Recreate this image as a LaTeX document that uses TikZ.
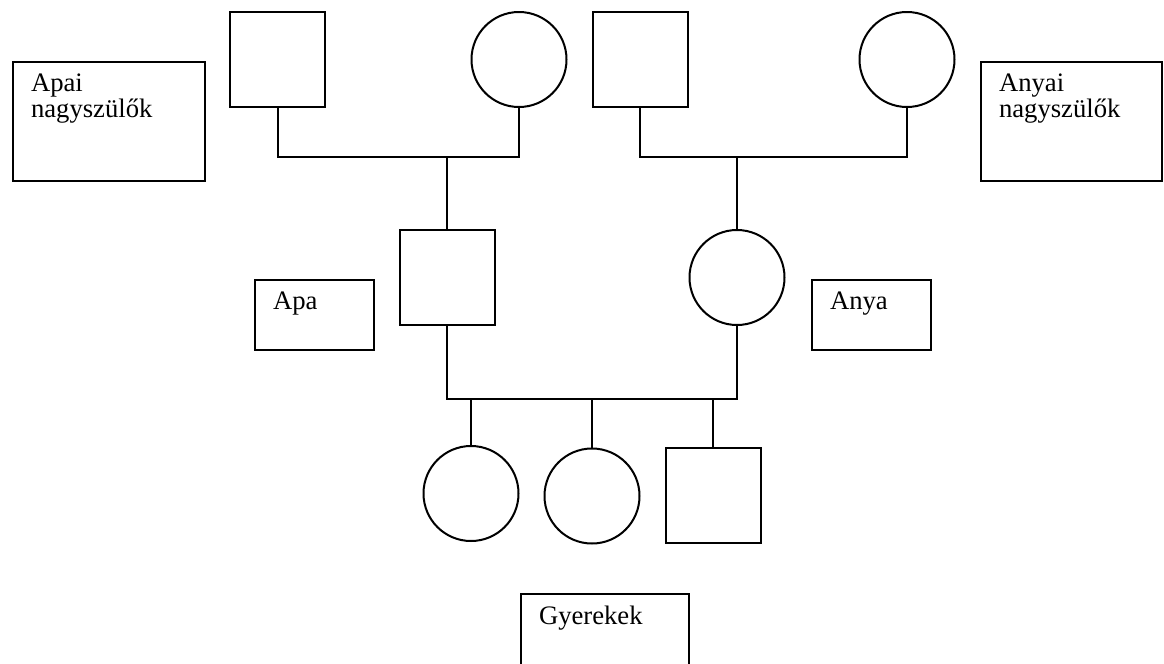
\documentclass[tikz,border=0pt]{standalone}
\usepackage{fontspec}
\setmainfont{Liberation Serif}

\newcommand{\tagtext}[3]{\parbox[t][#2][t]{#1}{\vspace*{9pt}\leftskip=13.5pt\relax #3}}

\begin{document}
\begin{tikzpicture}[x=0.75pt,y=-0.75pt,line width=1.5pt,
	male/.style={rectangle,draw,minimum size=71.25pt,inner sep=0pt},
	female/.style={circle,draw,minimum size=71.25pt,inner sep=0pt},
	tag/.style={rectangle,draw,inner sep=0pt,anchor=north west,font=\fontsize{20}{18}\selectfont}]
		\useasboundingbox (0,0) rectangle (1164,664);
		% grandparents
		\path (277.5,59.5) node(gpa1)[male]{}
		(519,59.5) node(gma1)[female]{}
		(640,59.5) node(gpa2)[male]{}
		(907,59.5) node(gma2)[female]{};
		% parents and children
		\path (447,277.5) node(apa)[male]{}
		(737,277.5) node(anya)[female]{}
		(471,493.5) node(kid1)[female]{}
		(592,496) node(kid2)[female]{}
		(713,495.5) node(kid3)[male]{};
		% labels
		\path (12,61) node(apaiL)[tag]{\tagtext{144pt}{89.25pt}{Apai\\nagyszülők}}
		(980,61) node(anyaiL)[tag]{\tagtext{135.75pt}{89.25pt}{Anyai\\nagyszülők}}
		(254,279) node(apaL)[tag]{\tagtext{89.25pt}{52.5pt}{Apa}}
		(811,279) node(anyaL)[tag]{\tagtext{89.25pt}{52.5pt}{Anya}}
		(520,593) node(kidsL)[tag]{\tagtext{126pt}{70pt}{Gyerekek}};
		\coordinate (pat) at (apa.north |- 0,157);
		\coordinate (mat) at (anya.north |- 0,157);
		\coordinate (sib) at (592,399);
		\draw (gpa1.south) |- (pat) -| (gma1.south);
		\draw (pat) -- (apa.north);
		\draw (gpa2.south) |- (mat) -| (gma2.south);
		\draw (mat) -- (anya.north);
		\draw (apa.south) |- (sib) -| (anya.south);
		\foreach \k in {kid1,kid2,kid3}
			\draw (\k.north) -- (\k.north |- sib);
	\end{tikzpicture}
\end{document}
